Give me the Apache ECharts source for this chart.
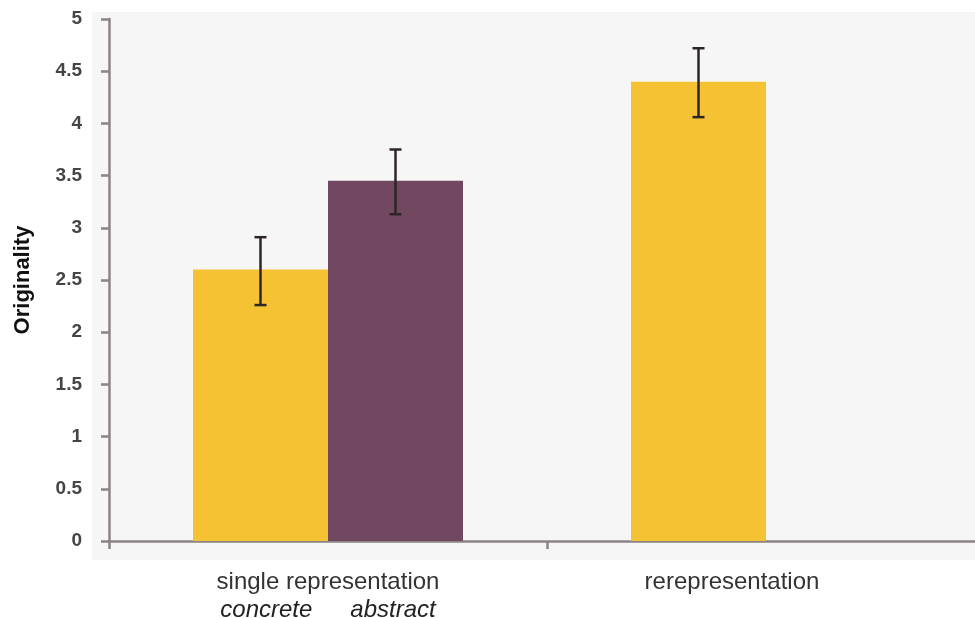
<!DOCTYPE html>
<html>
<head>
<meta charset="utf-8">
<script src="https://cdn.jsdelivr.net/npm/echarts@6/dist/echarts.min.js"></script>
<style>
  html, body { margin: 0; padding: 0; background: #fff; }
  #chart { width: 975px; height: 618px; }
</style>
</head>
<body>
<div id="chart"></div>
<script>
// categories and bar values
const categories = ['single representation', 'rerepresentation']
const concreteValues = [2.6, 4.4]
const abstractValues = [3.45, null]
// error bars: [low, high] for each bar
const concreteErr = [[2.26, 2.91], [4.06, 4.72]]
const abstractErr = [[3.13, 3.75], null]
const yTicks = { min: 0, max: 5, interval: 0.5 }

const BAR_W = 135
const axisColor = '#8c8484'
const FONT = 'Liberation Sans'

const chart = echarts.init(document.getElementById('chart'))

function errorSeries(name, errs, offset) {
  return {
    name: name,
    type: 'custom',
    z: 10,
    data: errs.map((e, i) => (e ? [i, e[0], e[1]] : [i, null, null])),
    renderItem(params, api) {
      if (api.value(1) == null || isNaN(api.value(1))) return
      const lo = api.coord([api.value(0), api.value(1)])
      const hi = api.coord([api.value(0), api.value(2)])
      const x = lo[0] + offset
      const cap = 6
      const style = { stroke: '#2e2626', lineWidth: 2.5 }
      return {
        type: 'group',
        children: [
          { type: 'line', shape: { x1: x, y1: lo[1], x2: x, y2: hi[1] }, style },
          { type: 'line', shape: { x1: x - cap, y1: lo[1], x2: x + cap, y2: lo[1] }, style },
          { type: 'line', shape: { x1: x - cap, y1: hi[1], x2: x + cap, y2: hi[1] }, style },
        ],
      }
    },
  }
}

const option = {
  animation: false,
  graphic: [
    {
      type: 'rect',
      z: -10,
      silent: true,
      shape: { x: 92, y: 12, width: 900, height: 548 },
      style: { fill: '#f6f6f6' },
    },
  ],
  grid: {
    left: 109,
    right: -10,
    top: 19,
    bottom: 77,
    outerBoundsMode: 'none',
    containLabel: false,
  },
  xAxis: {
    type: 'category',
    data: categories,
    axisLine: { lineStyle: { color: axisColor, width: 2.5 } },
    axisTick: { show: true, length: 8, lineStyle: { color: axisColor, width: 2.5 } },
    axisLabel: {
      margin: 27,
      interval: 0,
      fontFamily: FONT,
      fontSize: 24,
      color: '#333',
      lineHeight: 28,
      formatter(v, i) {
        if (i === 0) return '{n|' + v + '}\n{c|concrete}{a|abstract}'
        return '{r|' + v + '}'
      },
      rich: {
        n: { fontFamily: FONT, fontSize: 24, color: '#333', lineHeight: 28 },
        c: { fontFamily: FONT, fontSize: 24, fontStyle: 'italic', color: '#222', lineHeight: 28, padding: [0, 38, 0, 0] },
        a: { fontFamily: FONT, fontSize: 24, fontStyle: 'italic', color: '#222', lineHeight: 28 },
        r: { fontFamily: FONT, fontSize: 24, color: '#333', lineHeight: 28, padding: [0, 68, 0, 0] },
      },
    },
  },
  yAxis: {
    type: 'value',
    min: yTicks.min,
    max: yTicks.max,
    interval: yTicks.interval,
    name: 'Originality',
    nameLocation: 'middle',
    nameGap: 75,
    nameRotate: 90,
    nameTextStyle: { fontFamily: FONT, fontWeight: 'bold', fontSize: 22, color: '#111' },
    axisLine: { show: true, lineStyle: { color: axisColor, width: 2.5 } },
    axisTick: { show: true, length: 8, lineStyle: { color: axisColor, width: 2.5 } },
    splitLine: { show: false },
    axisLabel: {
      margin: 27,
      fontFamily: FONT,
      fontSize: 19,
      fontWeight: 'bold',
      color: '#444',
    },
  },
  series: [
    {
      name: 'concrete',
      type: 'bar',
      barWidth: BAR_W,
      barGap: '0%',
      itemStyle: { color: '#f4c232' },
      data: concreteValues,
    },
    {
      name: 'abstract',
      type: 'bar',
      barWidth: BAR_W,
      barGap: '0%',
      itemStyle: { color: '#724861' },
      data: abstractValues,
    },
    errorSeries('concreteErr', concreteErr, -BAR_W / 2),
    errorSeries('abstractErr', abstractErr, BAR_W / 2),
  ],
}

chart.setOption(option)
</script>
</body>
</html>
